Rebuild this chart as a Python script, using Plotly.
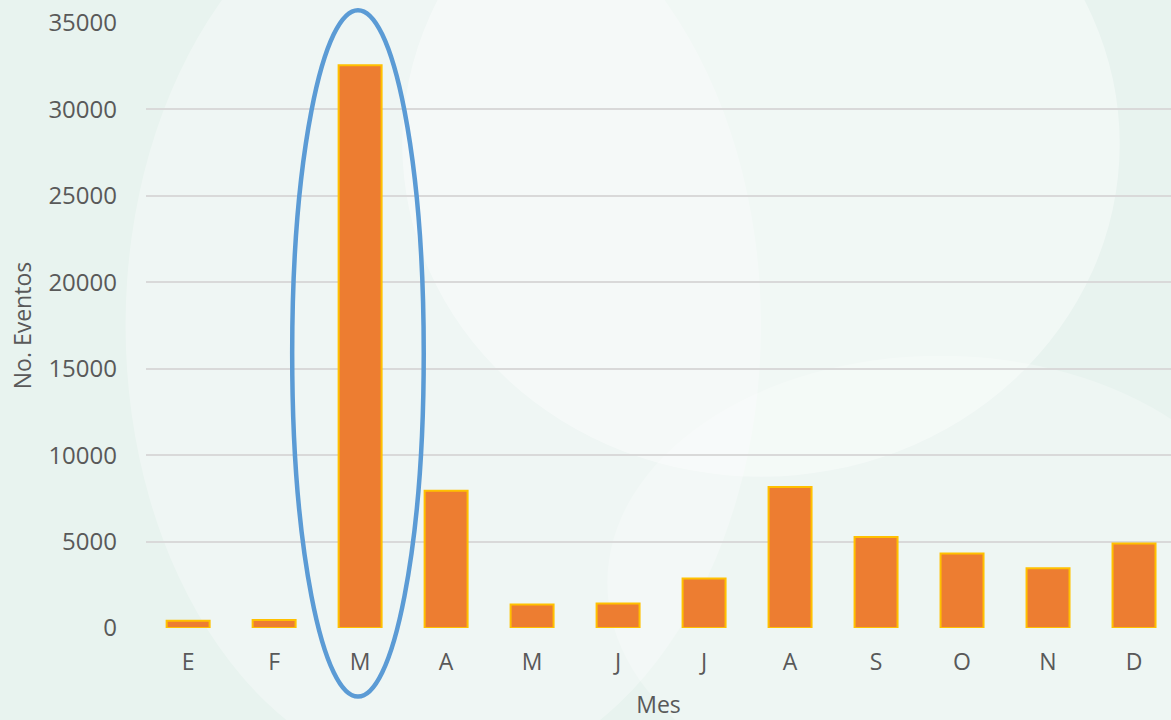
import plotly.graph_objects as go

meses = ['E', 'F', 'M', 'A', 'M', 'J', 'J', 'A', 'S', 'O', 'N', 'D']
eventos = [420, 460, 32560, 7940, 1360, 1420, 2870, 8150, 5260, 4310, 3450, 4890]
y_ticks = [0, 5000, 10000, 15000, 20000, 25000, 30000, 35000]

# ellipse around March (data units)
elipse_x = [1.21, 2.74]
elipse_y = [-3970, 35740]

x_rango = [-0.49, 11.43]
y_rango = [0, 35000]


def px(v):
    return (v - x_rango[0]) / (x_rango[1] - x_rango[0])


def py(v):
    return (v - y_rango[0]) / (y_rango[1] - y_rango[0])


fig = go.Figure()
fig.add_trace(go.Bar(
    x=list(range(len(meses))), y=eventos, width=0.5,
    marker=dict(color='#ED7D31', line=dict(color='#FFC000', width=2)),
))

gris = '#595959'
fig.update_layout(
    width=1171, height=720,
    margin=dict(l=146, r=0, t=23, b=92),
    paper_bgcolor='#e8f3ef', plot_bgcolor='rgba(0,0,0,0)',
    font=dict(family='Open Sans', color=gris),
    showlegend=False,
    xaxis=dict(range=x_rango, tickvals=list(range(len(meses))), ticktext=meses,
               showgrid=False, zeroline=False, tickfont=dict(size=23),
               title=dict(text='Mes', font=dict(size=23), standoff=22),
               ticks='', ticklabelstandoff=18),
    yaxis=dict(range=y_rango, tickvals=y_ticks, ticktext=[str(v) for v in y_ticks],
               gridcolor='#d9d9d9', gridwidth=1.5,
               zeroline=False, tickfont=dict(size=24),
               title=dict(text='No. Eventos', font=dict(size=23), standoff=10),
               ticks='', ticklabelstandoff=28),
    shapes=[
        dict(type='circle', xref='paper', yref='paper', layer='below',
             x0=-0.02, x1=0.6, y0=-0.25, y1=1.25,
             fillcolor='rgba(255,255,255,0.3)', line=dict(width=0)),
        dict(type='circle', xref='paper', yref='paper', layer='below',
             x0=0.25, x1=0.95, y0=0.25, y1=1.35,
             fillcolor='rgba(255,255,255,0.4)', line=dict(width=0)),
        dict(type='circle', xref='paper', yref='paper', layer='below',
             x0=0.45, x1=1.1, y0=-0.3, y1=0.45,
             fillcolor='rgba(255,255,255,0.25)', line=dict(width=0)),
        dict(type='circle', xref='paper', yref='paper', layer='above',
             x0=px(elipse_x[0]), x1=px(elipse_x[1]),
             y0=py(elipse_y[0]), y1=py(elipse_y[1]),
             line=dict(color='#5B9BD5', width=4.5)),
    ],
)

fig.write_html('out.html', config={'displayModeBar': False},
               post_script="document.body.style.margin='0';")
